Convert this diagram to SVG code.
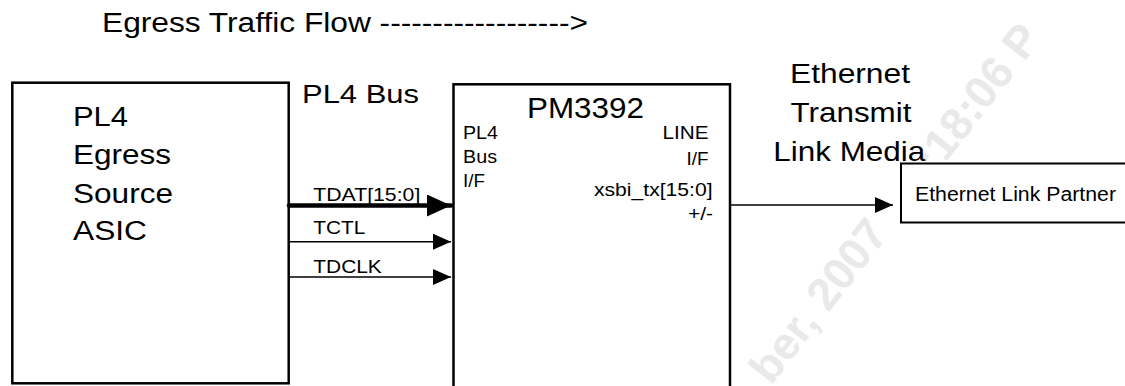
<svg xmlns="http://www.w3.org/2000/svg" width="1125" height="386" viewBox="0 0 1125 386">
<style>
  text { font-family: "Liberation Sans", Arial, sans-serif; fill: #000; }
  .box { fill: #fff; stroke: #000; stroke-width: 2.5; }
  .big { font-size: 27px; }
  .mid { font-size: 26px; }
  .sm { font-size: 17.5px; }
  .sig { font-size: 18px; }
  .wire { stroke: #000; stroke-width: 1.5; fill: none; }
  .wm { font-family: "Liberation Sans", Arial, sans-serif; font-weight: bold; font-size: 45px; fill: #e9e9e9; }
</style>
<defs>
  <marker id="arr" viewBox="0 0 18 16" refX="18" refY="8" markerWidth="18" markerHeight="16" markerUnits="userSpaceOnUse" orient="auto">
    <path d="M0,0 L18,8 L0,16 z" fill="#000"/>
  </marker>
  <marker id="arrBig" viewBox="0 0 24 22" refX="24" refY="11" markerWidth="24" markerHeight="22" markerUnits="userSpaceOnUse" orient="auto">
    <path d="M0,0 L24,11 L0,22 z" fill="#000"/>
  </marker>
</defs>
<rect x="0" y="0" width="1125" height="386" fill="#fff"/>

<g id="watermark" transform="translate(771,386) rotate(-52)">
  <text class="wm" x="0" y="0">ber, 2007</text>
  <text class="wm" x="268" y="0">:18:06 P</text>
</g>

<text id="title" class="big" x="102" y="32" textLength="486" lengthAdjust="spacingAndGlyphs">Egress Traffic Flow ------------------&gt;</text>

<g id="node-source">
  <rect class="box" x="12.3" y="82.7" width="276.4" height="300.6"/>
  <text class="big" x="73" y="126" textLength="55" lengthAdjust="spacingAndGlyphs">PL4</text>
  <text class="big" x="73" y="164" textLength="98" lengthAdjust="spacingAndGlyphs">Egress</text>
  <text class="big" x="73" y="202.5" textLength="100" lengthAdjust="spacingAndGlyphs">Source</text>
  <text class="big" x="73" y="240" textLength="74" lengthAdjust="spacingAndGlyphs">ASIC</text>
</g>

<g id="label-bus">
  <text class="mid" x="302" y="103.3" textLength="117" lengthAdjust="spacingAndGlyphs">PL4 Bus</text>
</g>

<g id="node-pm3392">
  <rect class="box" x="453.5" y="84.3" width="276.5" height="310"/>
  <text style="font-size:29px" x="527" y="118" textLength="117" lengthAdjust="spacingAndGlyphs">PM3392</text>
  <text class="sm" x="463" y="138.5" textLength="35" lengthAdjust="spacingAndGlyphs">PL4</text>
  <text class="sm" x="463" y="163" textLength="34" lengthAdjust="spacingAndGlyphs">Bus</text>
  <text class="sm" x="463" y="186.5" textLength="22" lengthAdjust="spacingAndGlyphs">I/F</text>
  <text class="sm" x="662.5" y="139" textLength="46" lengthAdjust="spacingAndGlyphs">LINE</text>
  <text class="sm" x="686.5" y="164.5" textLength="22" lengthAdjust="spacingAndGlyphs">I/F</text>
  <text class="sm" x="594" y="196" textLength="118.5" lengthAdjust="spacingAndGlyphs">xsbi_tx[15:0]</text>
  <text class="sm" x="688" y="219.5" textLength="25" lengthAdjust="spacingAndGlyphs">+/-</text>
</g>

<g id="label-media">
  <text class="big" style="font-size:27.5px" x="790" y="83.3" textLength="120" lengthAdjust="spacingAndGlyphs">Ethernet</text>
  <text class="big" style="font-size:27.5px" x="790.5" y="122" textLength="121" lengthAdjust="spacingAndGlyphs">Transmit</text>
  <text class="big" style="font-size:27.5px" x="773.3" y="161.3" textLength="152" lengthAdjust="spacingAndGlyphs">Link Media</text>
</g>

<g id="node-partner">
  <rect class="box" x="901" y="163.5" width="240" height="59" style="stroke-width:2"/>
  <text style="font-size:20px" x="915" y="200.5" textLength="201" lengthAdjust="spacingAndGlyphs">Ethernet Link Partner</text>
</g>

<g id="connectors">
  <line x1="289" y1="205.5" x2="451" y2="205.5" stroke="#000" stroke-width="4.5" stroke-linecap="round" marker-end="url(#arrBig)"/>
  <line class="wire" x1="289" y1="241.7" x2="451" y2="241.7" marker-end="url(#arr)"/>
  <line class="wire" x1="289" y1="277" x2="451" y2="277" marker-end="url(#arr)"/>
  <line class="wire" x1="730" y1="205" x2="893" y2="205" marker-end="url(#arr)"/>
</g>

<g id="signal-labels">
  <text class="sig" x="313.3" y="201" textLength="107" lengthAdjust="spacingAndGlyphs">TDAT[15:0]</text>
  <text class="sig" x="313.3" y="233.5" textLength="52" lengthAdjust="spacingAndGlyphs">TCTL</text>
  <text class="sig" x="313.3" y="272.5" textLength="68.5" lengthAdjust="spacingAndGlyphs">TDCLK</text>
</g>
</svg>
